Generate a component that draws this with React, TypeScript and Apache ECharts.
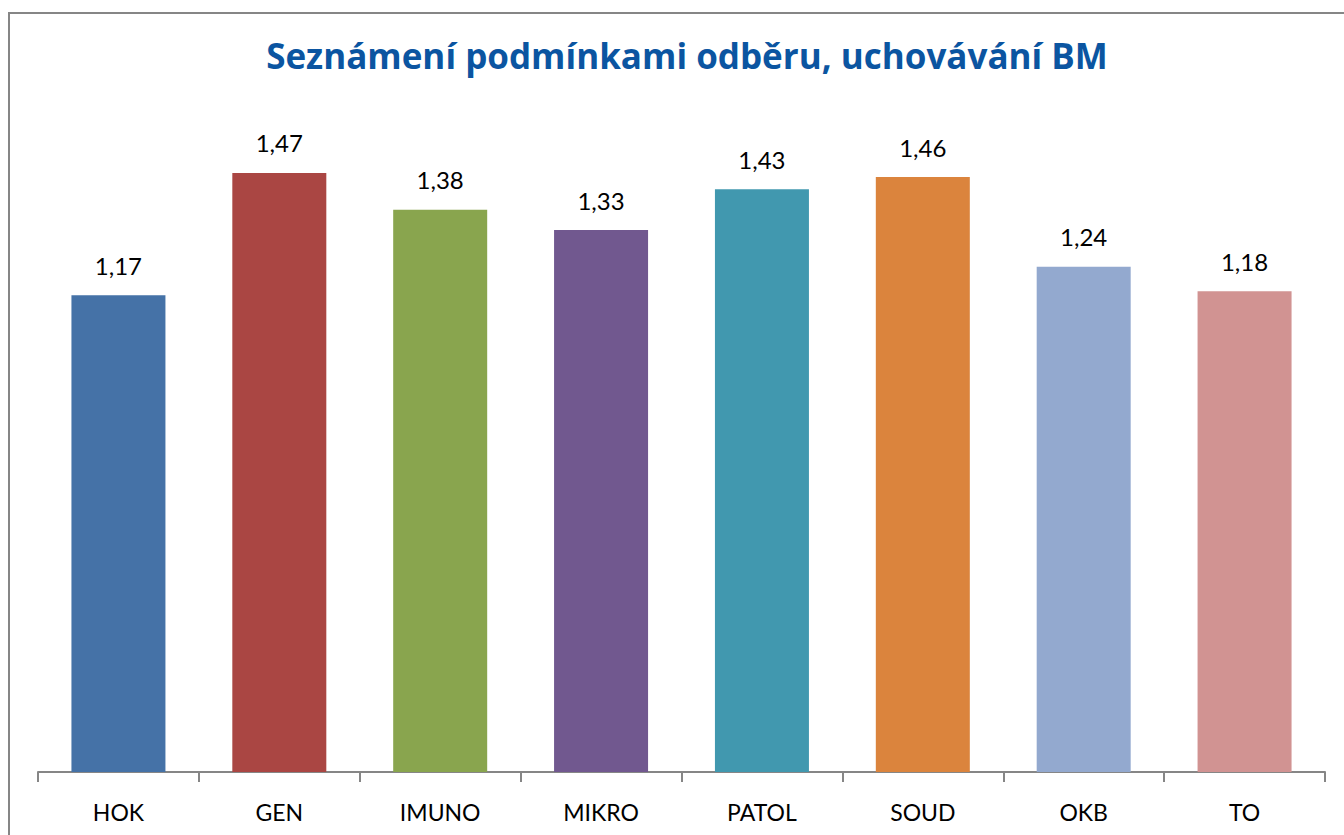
import React, { useEffect, useRef } from "react";
import * as echarts from "echarts";

const categories = ["HOK", "GEN", "IMUNO", "MIKRO", "PATOL", "SOUD", "OKB", "TO"];
const values = [1.17, 1.47, 1.38, 1.33, 1.43, 1.46, 1.24, 1.18];
const barColors = ["#4572A7", "#AA4643", "#89A54E", "#71588F", "#4198AF", "#DB843D", "#93A9CF", "#D19392"];
const titleText = "Seznámení podmínkami odběru, uchovávání BM";

export default function App() {
  const ref = useRef<HTMLDivElement>(null);
  useEffect(() => {
    if (!ref.current) return;
    const chart = echarts.init(ref.current, null, { renderer: "svg" });
    chart.setOption({
      animation: false,
      backgroundColor: "#ffffff",
      title: {
        text: titleText,
        left: 682,
        textAlign: "center",
        top: 33,
        textStyle: { color: "#0B55A1", fontFamily: "Open Sans", fontWeight: "bold", fontSize: 35 },
      },
      graphic: [
        {
          type: "rect",
          shape: { x: 9, y: 13, width: 1400, height: 900 },
          style: { fill: "none", stroke: "#868686", lineWidth: 2 },
          silent: true,
        },
      ],
      grid: { left: 38, right: 19, top: 120, bottom: 63 },
      xAxis: {
        type: "category",
        data: categories,
        axisLine: { show: true, lineStyle: { color: "#868686", width: 2 } },
        axisTick: { show: true, interval: 0, length: 10, lineStyle: { color: "#868686", width: 2 } },
        axisLabel: { color: "#000000", fontFamily: "Lato", fontSize: 23, margin: 28 },
      },
      yAxis: {
        type: "value",
        min: 0,
        max: 1.6,
        show: false,
        splitLine: { show: false },
      },
      series: [
        {
          type: "bar",
          barWidth: 94,
          data: values.map((v, i) => ({ value: v, itemStyle: { color: barColors[i] } })),
          label: {
            show: true,
            position: "top",
            distance: 18,
            color: "#000000",
            fontFamily: "Lato",
            fontSize: 24,
            formatter: (p: any) => p.value.toFixed(2).replace(".", ","),
          },
        },
      ],
    });
    return () => chart.dispose();
  }, []);
  return <div ref={ref} style={{ position: "absolute", left: 0, top: 0, width: 1344, height: 835 }} />;
}
